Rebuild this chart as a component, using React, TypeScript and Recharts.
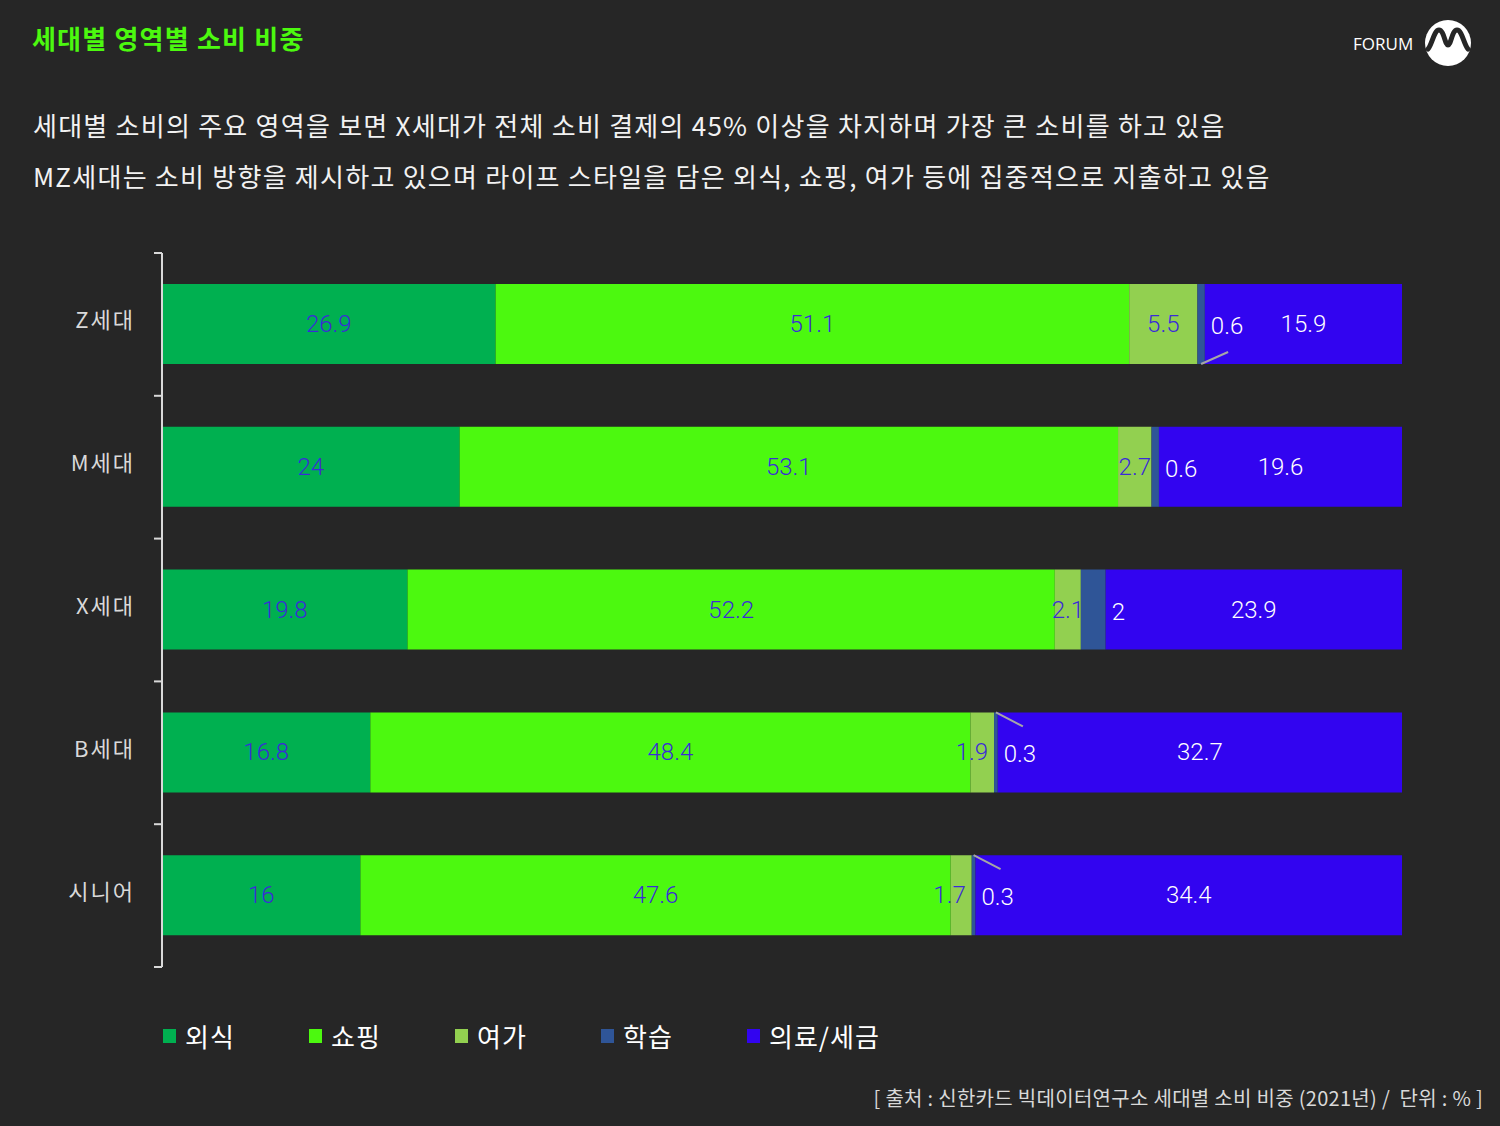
import { Bar, BarChart, LabelList, XAxis, YAxis } from 'recharts'

const generations = ['Z세대', 'M세대', 'X세대', 'B세대', '시니어']
const seriesNames = ['외식', '쇼핑', '여가', '학습', '의료/세금']
const dining = [26.9, 24, 19.8, 16.8, 16]
const shopping = [51.1, 53.1, 52.2, 48.4, 47.6]
const leisure = [5.5, 2.7, 2.1, 1.9, 1.7]
const learning = [0.6, 0.6, 2, 0.3, 0.3]
const medical = [15.9, 19.6, 23.9, 32.7, 34.4]

const KR = "'Noto Sans CJK KR', 'Noto Sans', sans-serif"
const NUM = "Roboto, 'Noto Sans', sans-serif"
const BG = '#262626'
const colors = ['#00b050', '#4cf90f', '#92d050', '#2f5597', '#3204f0']

const W = 1500
const H = 1126
const TOP = 253
const BOTTOM = 967
const AXIS_X = 162
const band = (BOTTOM - TOP) / generations.length

const data = generations.map((name, i) => ({
  name,
  s0: dining[i],
  s1: shopping[i],
  s2: leisure[i],
  s3: learning[i],
  s4: medical[i],
}))

// leader lines for the tiny 학습 segments
const leaders: (string | null)[] = ['down', null, null, 'up', 'up']

const GenTick = (props: any) => {
  const { y, payload, index } = props
  return (
    <g>
      <text
        x={AXIS_X - 27}
        y={y}
        dy={4}
        textAnchor="end"
        fill="#d9d9d9"
        fontSize={22}
        fontFamily={KR}
        letterSpacing={2}
      >
        {payload.value}
      </text>
      <line x1={AXIS_X - 8} x2={AXIS_X} y1={y - band / 2} y2={y - band / 2} stroke="#d9d9d9" strokeWidth={2} />
      {index === generations.length - 1 && (
        <line x1={AXIS_X - 8} x2={AXIS_X} y1={y + band / 2} y2={y + band / 2} stroke="#d9d9d9" strokeWidth={2} />
      )}
    </g>
  )
}

const centerLabel = (fill: string) => (p: any) => {
  // narrow segments: push the text to the left side of the segment end
  const narrow = p.width < 25
  return (
    <text
      x={narrow ? p.x + p.width - 6 : p.x + p.width / 2}
      y={p.y + p.height / 2}
      dy={8}
      textAnchor={narrow ? 'end' : 'middle'}
      fill={fill}
      fontSize={24}
      fontWeight={300}
      fontFamily={NUM}
    >
      {p.value}
    </text>
  )
}

const learningLabel = (p: any) => {
  const cx = p.x + p.width / 2
  const dir = leaders[p.index]
  return (
    <g>
      <text
        x={p.x + p.width + 6}
        y={p.y + p.height / 2}
        dy={10}
        textAnchor="start"
        fill="#ffffff"
        fontSize={24}
        fontWeight={300}
        fontFamily={NUM}
      >
        {p.value}
      </text>
      {dir === 'down' && (
        <line x1={cx} y1={p.y + p.height} x2={cx + 27} y2={p.y + p.height - 12} stroke="#a6a6a6" strokeWidth={2} />
      )}
      {dir === 'up' && (
        <line x1={cx} y1={p.y} x2={cx + 27} y2={p.y + 14} stroke="#a6a6a6" strokeWidth={2} />
      )}
    </g>
  )
}

const Logo = () => (
  <svg width={50} height={50} style={{ position: 'absolute', left: 1423, top: 18 }}>
    <circle cx={25} cy={25} r={23} fill="#ffffff" />
    <path
      d="M5 31 C9 27 11 12 16 12 C21 12 22 27 25 27 C28 27 29 12 34 12 C39 12 41 27 45 31"
      fill="none"
      stroke={BG}
      strokeWidth={5}
      strokeLinecap="round"
    />
  </svg>
)

export default function App() {
  return (
    <div style={{ position: 'absolute', left: 0, top: 0, width: W, height: H, background: BG, fontFamily: KR, overflow: 'hidden' }}>
      <div style={{ position: 'absolute', left: 32, top: 20, color: '#4cf90f', fontSize: 26, fontWeight: 700, lineHeight: '36px', letterSpacing: 1.2 }}>
        세대별 영역별 소비 비중
      </div>
      <div style={{ position: 'absolute', left: 1353, top: 32, color: '#ffffff', fontSize: 17, fontFamily: "'Open Sans', sans-serif", lineHeight: '24px' }}>
        FORUM
      </div>
      <Logo />
      <div style={{ position: 'absolute', left: 33, top: 99, color: '#f2f2f2', fontSize: 26, lineHeight: '51px', letterSpacing: 1.25 }}>
        <div>세대별 소비의 주요 영역을 보면 X세대가 전체 소비 결제의 45% 이상을 차지하며 가장 큰 소비를 하고 있음</div>
        <div>MZ세대는 소비 방향을 제시하고 있으며 라이프 스타일을 담은 외식, 쇼핑, 여가 등에 집중적으로 지출하고 있음</div>
      </div>

      <div style={{ position: 'absolute', left: 0, top: 0 }}>
        <BarChart
          width={W}
          height={H}
          data={data}
          layout="vertical"
          margin={{ top: TOP, right: W - 1402, bottom: H - BOTTOM, left: 0 }}
          barSize={80}
        >
          <XAxis type="number" domain={[0, 100]} allowDataOverflow hide />
          <YAxis
            type="category"
            dataKey="name"
            width={AXIS_X}
            axisLine={{ stroke: '#d9d9d9', strokeWidth: 2 }}
            tickLine={false}
            tick={<GenTick />}
          />
          <Bar dataKey="s0" name={seriesNames[0]} stackId="a" fill={colors[0]} isAnimationActive={false}>
            <LabelList dataKey="s0" content={centerLabel('#3a2bd8')} />
          </Bar>
          <Bar dataKey="s1" name={seriesNames[1]} stackId="a" fill={colors[1]} isAnimationActive={false}>
            <LabelList dataKey="s1" content={centerLabel('#3a2bd8')} />
          </Bar>
          <Bar dataKey="s2" name={seriesNames[2]} stackId="a" fill={colors[2]} isAnimationActive={false}>
            <LabelList dataKey="s2" content={centerLabel('#3a2bd8')} />
          </Bar>
          <Bar dataKey="s3" name={seriesNames[3]} stackId="a" fill={colors[3]} isAnimationActive={false}>
            <LabelList dataKey="s3" content={learningLabel} />
          </Bar>
          <Bar dataKey="s4" name={seriesNames[4]} stackId="a" fill={colors[4]} isAnimationActive={false}>
            <LabelList dataKey="s4" content={centerLabel('#ffffff')} />
          </Bar>
        </BarChart>
      </div>

      {/* 범례 */}
      <div style={{ position: 'absolute', left: 163, top: 1020, display: 'flex' }}>
        {seriesNames.map((n, i) => (
          <div key={n} style={{ width: 146, display: 'flex', alignItems: 'center' }}>
            <span style={{ display: 'inline-block', width: 13, height: 14, background: colors[i], marginRight: 9 }} />
            <span style={{ color: '#ffffff', fontSize: 26, lineHeight: '32px', letterSpacing: 1 }}>{n}</span>
          </div>
        ))}
      </div>

      <div style={{ position: 'absolute', right: 17, top: 1084, color: '#d9d9d9', fontSize: 20, lineHeight: '28px', whiteSpace: 'pre', letterSpacing: 0.3 }}>
        {'[ 출처 : 신한카드 빅데이터연구소 세대별 소비 비중 (2021년) /  단위 : % ]'}
      </div>
    </div>
  )
}
